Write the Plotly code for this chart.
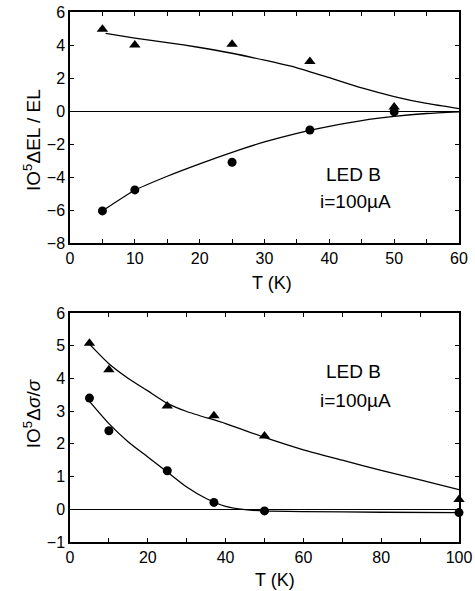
import plotly.graph_objects as go

# ---- Top panel data (ΔEL/EL) ----
top_T = [5, 10, 25, 37, 50]
top_tri = [4.95, 4.0, 4.05, 3.0, 0.25]
top_circ = [-6.05, -4.78, -3.1, -1.15, -0.05]
top_fit_T_up = [5.5, 10, 15, 20, 25, 30, 35, 40, 45, 50, 55, 60]
top_fit_up = [4.7, 4.42, 4.15, 3.85, 3.5, 3.08, 2.62, 2.02, 1.4, 0.88, 0.46, 0.15]
top_fit_T_lo = [5, 10, 15, 20, 25, 30, 35, 40, 45, 50, 55, 60]
top_fit_lo = [-6.05, -4.8, -3.95, -3.2, -2.5, -1.875, -1.35, -0.925, -0.575, -0.325, -0.15, -0.05]

# ---- Bottom panel data (Δσ/σ) ----
bot_T = [5, 10, 25, 37, 50, 100]
bot_tri = [5.08, 4.27, 3.16, 2.86, 2.24, 0.3]
bot_circ = [3.4, 2.4, 1.18, 0.21, -0.05, -0.1]
bot_fit_T_up = [5, 10, 15, 20, 25, 30, 40, 50, 60, 70, 80, 90, 100]
bot_fit_up = [5.05, 4.45, 4.0, 3.62, 3.24, 2.99, 2.62, 2.2, 1.82, 1.5, 1.19, 0.9, 0.6]
bot_fit_T_lo = [5, 10, 15, 20, 25, 30, 35, 40, 45, 50, 60, 80, 100]
bot_fit_lo = [3.3, 2.62, 2.06, 1.6, 1.14, 0.68, 0.33, 0.09, -0.01, -0.05, -0.07, -0.09, -0.1]

FONT = "Liberation Sans, Arial, sans-serif"
BLACK = "black"

fig = go.Figure()

def line(x, y, xa, ya):
    fig.add_trace(go.Scatter(x=x, y=y, mode="lines", xaxis=xa, yaxis=ya,
                             line=dict(color=BLACK, width=1.3, shape="spline", smoothing=0.6),
                             showlegend=False, hoverinfo="skip"))

def pts(x, y, sym, xa, ya):
    fig.add_trace(go.Scatter(x=x, y=y, mode="markers", xaxis=xa, yaxis=ya,
                             marker=dict(symbol=sym, color=BLACK, size=9 if sym == "circle" else 10),
                             showlegend=False, cliponaxis=False))

line(top_fit_T_up, top_fit_up, "x", "y")
line(top_fit_T_lo, top_fit_lo, "x", "y")
pts(top_T, top_tri, "triangle-up", "x", "y")
pts(top_T, top_circ, "circle", "x", "y")

line(bot_fit_T_up, bot_fit_up, "x2", "y2")
line(bot_fit_T_lo, bot_fit_lo, "x2", "y2")
pts(bot_T, bot_tri, "triangle-up", "x2", "y2")
pts(bot_T, bot_circ, "circle", "x2", "y2")

axis_common = dict(showline=True, linecolor=BLACK, linewidth=1.5, mirror="ticks",
                   ticks="inside", ticklen=4, tickcolor=BLACK, tickwidth=1,
                   showgrid=False, zeroline=False, automargin=False,
                   tickfont=dict(family=FONT, size=16, color=BLACK))

fig.update_layout(
    width=475, height=591,
    margin=dict(l=70, r=16, t=12, b=49, autoexpand=False),
    paper_bgcolor="white", plot_bgcolor="white",
    xaxis=dict(domain=[0, 1], anchor="y", range=[0, 60], tickvals=[0, 10, 20, 30, 40, 50, 60],
               minor=dict(tickvals=[5, 15, 25, 35, 45, 55], ticks="inside", ticklen=4, tickcolor=BLACK),
               **axis_common),
    yaxis=dict(domain=[0.564, 1], anchor="x", range=[-8, 6], tickvals=[-8, -6, -4, -2, 0, 2, 4, 6],
               **{**axis_common, "zeroline": True, "zerolinecolor": BLACK, "zerolinewidth": 1}),
    xaxis2=dict(domain=[0, 1], anchor="y2", range=[0, 100], tickvals=[0, 20, 40, 60, 80, 100],
                minor=dict(tickvals=[10, 30, 50, 70, 90], ticks="inside", ticklen=4, tickcolor=BLACK),
                **axis_common),
    yaxis2=dict(domain=[0, 0.432], anchor="x2", range=[-1, 6], tickvals=[-1, 0, 1, 2, 3, 4, 5, 6],
                **{**axis_common, "zeroline": True, "zerolinecolor": BLACK, "zerolinewidth": 1}),
)

ann_font = dict(family=FONT, size=19, color=BLACK)
annotations = [
    dict(text="LED B", x=43.7, y=-3.85, xref="x", yref="y", showarrow=False, font=ann_font),
    dict(text="i=100µA", x=44.0, y=-5.5, xref="x", yref="y", showarrow=False, font=ann_font),
    dict(text="LED B", x=72.8, y=4.2, xref="x2", yref="y2", showarrow=False, font=ann_font),
    dict(text="i=100µA", x=73.3, y=3.33, xref="x2", yref="y2", showarrow=False, font=ann_font),
    dict(text="T (K)", x=0.518, y=0.4887, xref="paper", yref="paper", showarrow=False,
         xanchor="center", yanchor="middle", font=dict(family=FONT, size=18, color=BLACK)),
    dict(text="T (K)", x=0.527, y=-0.0717, xref="paper", yref="paper", showarrow=False,
         xanchor="center", yanchor="middle", font=dict(family=FONT, size=18, color=BLACK)),
    dict(text="IO<sup>5</sup>ΔEL / EL", x=-0.0977, y=0.7585, xref="paper", yref="paper",
         xanchor="center", yanchor="middle",
         showarrow=False, textangle=-90, font=dict(family=FONT, size=19, color=BLACK)),
    dict(text="IO<sup>5</sup>Δ<i>σ</i>/<i>σ</i>", x=-0.0977, y=0.243, xref="paper", yref="paper",
         xanchor="center", yanchor="middle",
         showarrow=False, textangle=-90, font=dict(family=FONT, size=19, color=BLACK)),
]
fig.update_layout(annotations=annotations)

fig.write_html("out.html", config={"displayModeBar": False},
               post_script="document.body.style.margin='0';document.body.style.overflow='hidden';")
